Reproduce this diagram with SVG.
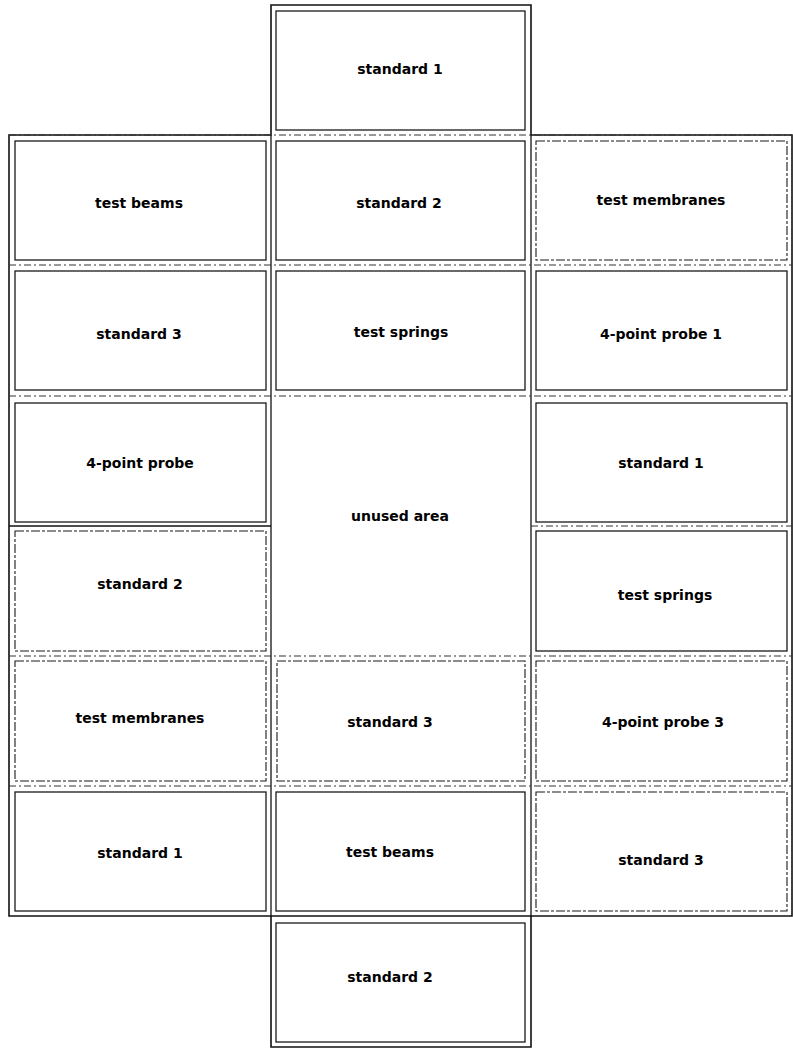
<svg xmlns="http://www.w3.org/2000/svg" width="793" height="1049" viewBox="0 0 793 1049">
<style>
  .bg{fill:#ffffff}
  .frame{fill:none;stroke:#111;stroke-width:1.6}
  .grid{fill:none;stroke:#333;stroke-width:1;stroke-dasharray:7 3 2 3}
  .vline{fill:none;stroke:#111;stroke-width:1.3}
  .cell{fill:none;stroke:#1a1a1a;stroke-width:1.3}
  .cell-d{fill:none;stroke:#1a1a1a;stroke-width:1.1;stroke-dasharray:9 2 3 2}
  .lbl{font-family:"DejaVu Sans","Liberation Sans",sans-serif;font-weight:bold;font-size:14px;fill:#000;text-anchor:middle}
</style>
<rect class="bg" x="0" y="0" width="793" height="1049"/>

<g id="frame">
  <path class="frame" d="M271,5 H531 V135 H792 V916 H531 V1047 H271 V916 H9 V135 H271 Z"/>
  <line class="vline" x1="271" y1="135" x2="271" y2="916"/>
  <line class="vline" x1="531" y1="135" x2="531" y2="916"/>
  <line class="grid" x1="9" y1="135" x2="792" y2="135"/>
  <line class="grid" x1="9" y1="265" x2="792" y2="265"/>
  <line class="grid" x1="9" y1="396" x2="792" y2="396"/>
  <line class="vline" x1="9" y1="526" x2="271" y2="526"/>
  <line class="grid" x1="531" y1="526" x2="792" y2="526"/>
  <line class="grid" x1="9" y1="656" x2="792" y2="656"/>
  <line class="grid" x1="9" y1="786" x2="792" y2="786"/>
  <line class="frame" x1="271" y1="916" x2="531" y2="916"/>
</g>

<g id="mid-standard-1-top">
  <rect class="cell" x="276" y="11" width="249" height="119"/>
  <text class="lbl" x="400" y="74">standard 1</text>
</g>

<g id="left-test-beams">
  <rect class="cell" x="15" y="141" width="251" height="119"/>
  <text class="lbl" x="139" y="208">test beams</text>
</g>
<g id="mid-standard-2">
  <rect class="cell" x="276" y="141" width="249" height="119"/>
  <text class="lbl" x="399" y="208">standard 2</text>
</g>
<g id="right-test-membranes">
  <rect class="cell-d" x="536" y="141" width="251" height="119"/>
  <text class="lbl" x="661" y="205">test membranes</text>
</g>

<g id="left-standard-3">
  <rect class="cell" x="15" y="271" width="251" height="119"/>
  <text class="lbl" x="139" y="339">standard 3</text>
</g>
<g id="mid-test-springs">
  <rect class="cell" x="276" y="271" width="249" height="119"/>
  <text class="lbl" x="401" y="337">test springs</text>
</g>
<g id="right-4-point-probe-1">
  <rect class="cell" x="536" y="271" width="251" height="119"/>
  <text class="lbl" x="661" y="339">4-point probe 1</text>
</g>

<g id="left-4-point-probe">
  <rect class="cell" x="15" y="403" width="251" height="119"/>
  <text class="lbl" x="140" y="468">4-point probe</text>
</g>
<g id="mid-unused-area">
  <text class="lbl" x="400" y="521">unused area</text>
</g>
<g id="right-standard-1">
  <rect class="cell" x="536" y="403" width="251" height="119"/>
  <text class="lbl" x="661" y="468">standard 1</text>
</g>

<g id="left-standard-2">
  <rect class="cell-d" x="15" y="531" width="251" height="120"/>
  <text class="lbl" x="140" y="589">standard 2</text>
</g>
<g id="right-test-springs">
  <rect class="cell" x="536" y="531" width="251" height="120"/>
  <text class="lbl" x="665" y="600">test springs</text>
</g>

<g id="left-test-membranes">
  <rect class="cell-d" x="15" y="661" width="251" height="120"/>
  <text class="lbl" x="140" y="723">test membranes</text>
</g>
<g id="mid-standard-3">
  <rect class="cell-d" x="277" y="661" width="248" height="120"/>
  <text class="lbl" x="390" y="727">standard 3</text>
</g>
<g id="right-4-point-probe-3">
  <rect class="cell-d" x="536" y="661" width="251" height="120"/>
  <text class="lbl" x="663" y="727">4-point probe 3</text>
</g>

<g id="left-standard-1">
  <rect class="cell" x="15" y="792" width="251" height="119"/>
  <text class="lbl" x="140" y="858">standard 1</text>
</g>
<g id="mid-test-beams">
  <rect class="cell" x="276" y="792" width="249" height="119"/>
  <text class="lbl" x="390" y="857">test beams</text>
</g>
<g id="right-standard-3">
  <rect class="cell-d" x="536" y="792" width="251" height="119"/>
  <text class="lbl" x="661" y="865">standard 3</text>
</g>

<g id="mid-standard-2-bottom">
  <rect class="cell" x="276" y="923" width="249" height="119"/>
  <text class="lbl" x="390" y="982">standard 2</text>
</g>
</svg>
